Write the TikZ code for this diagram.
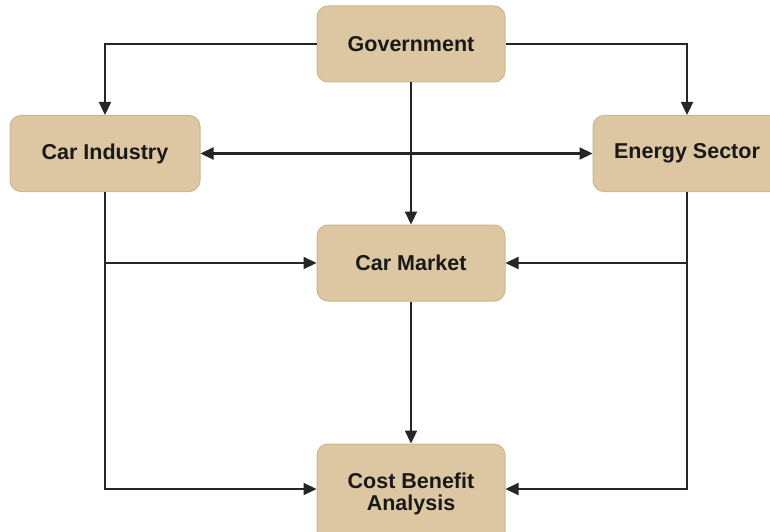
\documentclass[tikz,border=0pt]{standalone}
\usepackage{fontspec}
\setmainfont{Liberation Sans}
\usetikzlibrary{positioning,arrows.meta}
\definecolor{boxfill}{RGB}{221,199,163}
\definecolor{boxline}{RGB}{205,182,145}
\tikzset{x=1pt, y=-1pt,
block/.style={draw=boxline, fill=boxfill, rounded corners=11pt, line width=1pt,
  minimum width=188pt, minimum height=76pt, align=center, text=black!90,
  font=\fontsize{21.5}{22}\selectfont\bfseries}, % the tan boxes
link/.style={line width=2.2pt, draw=black!85, -{Triangle[length=13pt,width=12pt]}}, % the connectors
twolink/.style={link, {Triangle[length=13pt,width=12pt]}-{Triangle[length=13pt,width=12pt]}},
}
\begin{document}
\begin{tikzpicture}
\useasboundingbox (0,0) rectangle (770,532);

\node[block] (gov) at (411,44) {Government};
\node[block, minimum width=190pt] (ind) at (105,153.5) {Car Industry};
\node[block] (nrg) at (687,153.5) {Energy Sector};
\node[block] (mkt) at (411,263) {Car Market};
\node[block, minimum height=100pt] (cba) at (411,494) {Cost Benefit\\Analysis};

\draw[link] (gov.west) -| (ind.north);
\draw[link] (gov.east) -| (nrg.north);
\draw[twolink] (ind.east) -- (nrg.west);
\draw[link] (gov.south) -- (mkt.north);
\draw[link] (mkt.south) -- (cba.north);

\draw[link] (ind.south) |- (cba.west |- 0,489);
\draw[link] (ind.south |- mkt.west) -- (mkt.west);
\draw[link] (nrg.south) |- (cba.east |- 0,489);
\draw[link] (nrg.south |- mkt.east) -- (mkt.east);

\end{tikzpicture}
\end{document}
